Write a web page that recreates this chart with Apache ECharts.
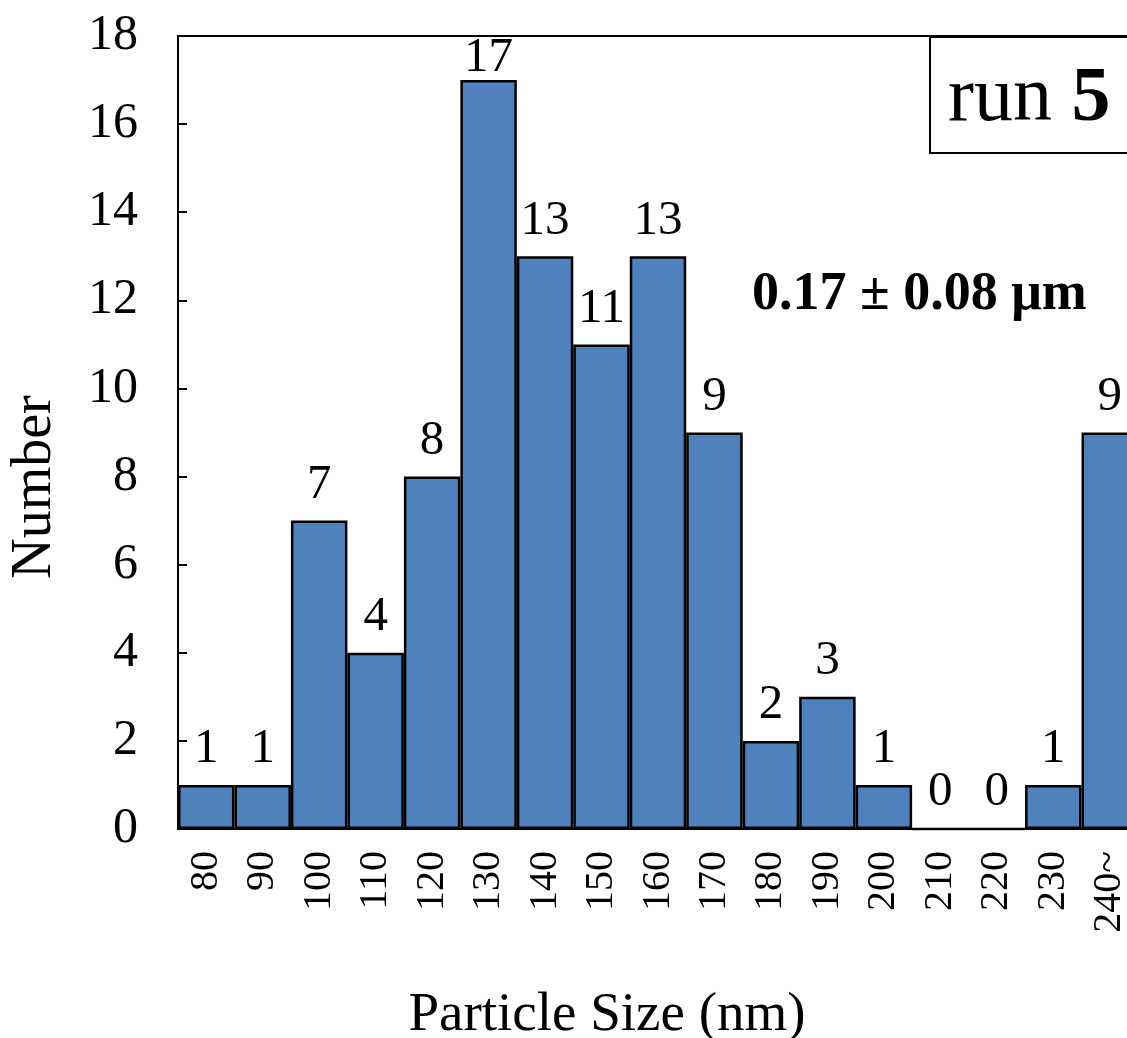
<!DOCTYPE html>
<html><head><meta charset="utf-8">
<script src="https://cdn.jsdelivr.net/npm/echarts@6/dist/echarts.min.js"></script>
<style>html,body{margin:0;padding:0;background:#fff;overflow:hidden;width:1127px;height:1038px}#c{width:1140px;height:1038px}</style>
</head><body><div id="c"></div>
<script>
const categories = ['80','90','100','110','120','130','140','150','160','170','180','190','200','210','220','230','240~'];
const counts = [1,1,7,4,8,17,13,11,13,9,2,3,1,0,0,1,9];
const yTicks = {min:0, max:18, interval:2};
const xTitle = 'Particle Size (nm)';
const yTitle = 'Number';
const runLabel = 'run ';
const runNum = '5';
const meanText = '0.17 \u00b1 0.08 \u03bcm';

const F = '"Liberation Serif","Times New Roman",serif';
const GRID_TOP = 36;
const chart = echarts.init(document.getElementById('c'));
chart.setOption({
  animation:false,
  backgroundColor:'#fff',
  grid:{left:178, top:GRID_TOP, width:960, height:793, show:true, borderColor:'#000', borderWidth:2, backgroundColor:'transparent'},
  xAxis:{type:'category', data:categories,
    axisLine:{lineStyle:{color:'#000', width:2}},
    axisTick:{inside:true, length:10, lineStyle:{color:'#000', width:2}},
    axisLabel:{rotate:90, color:'#000', fontFamily:F, fontSize:40, margin:22}},
  yAxis:{type:'value', min:yTicks.min, max:yTicks.max, interval:yTicks.interval,
    axisLine:{show:true, lineStyle:{color:'#000', width:2}},
    axisTick:{show:true, inside:true, length:9, lineStyle:{color:'#000', width:2}},
    splitLine:{show:false},
    axisLabel:{color:'#000', fontFamily:F, fontSize:50, margin:40}},
  series:[{type:'bar', data:counts, barCategoryGap:'0%',
    itemStyle:{color:'#4F81BD', borderColor:'#000', borderWidth:2.5},
    label:{show:true, position:'top', distance:11, color:'#000', fontFamily:F, fontSize:49},
    labelLayout:function(p){
      const minY = GRID_TOP - 2;
      if (p.labelRect.y < minY) return {dy: minY - p.labelRect.y};
      return {};
    }}],
  graphic:[
    {type:'text', x:607, y:1016, style:{text:xTitle, font:'55px '+F, fill:'#000', align:'center', verticalAlign:'middle'}},
    {type:'text', x:35, y:487, rotation:Math.PI/2, style:{text:yTitle, font:'56px '+F, fill:'#000', align:'center', verticalAlign:'middle'}},
    {type:'rect', shape:{x:930, y:37, width:220, height:116}, style:{fill:'#fff', stroke:'#000', lineWidth:2}, z:100},
    {type:'text', x:948, y:100, z:101, style:{rich:{a:{font:'78px '+F, fill:'#000'}, b:{font:'bold 78px '+F, fill:'#000'}}, text:'{a|'+runLabel+'}{b|'+runNum+'}', verticalAlign:'middle'}},
    {type:'text', x:752, y:295, z:101, style:{text:meanText, font:'bold 54px '+F, fill:'#000', verticalAlign:'middle'}}
  ]
});
</script></body></html>
